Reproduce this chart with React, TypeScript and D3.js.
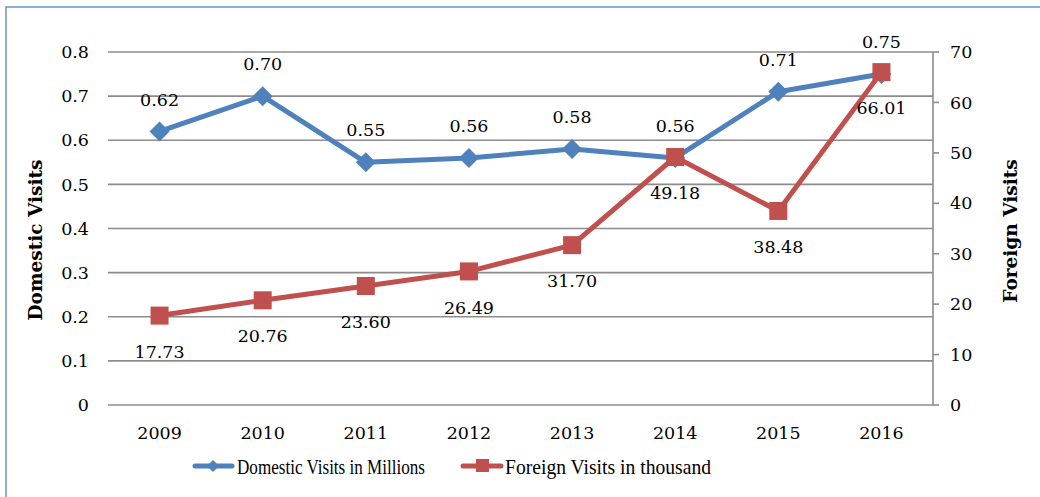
import * as d3 from 'd3';

const years = ['2009', '2010', '2011', '2012', '2013', '2014', '2015', '2016'];
const domestic = [0.62, 0.70, 0.55, 0.56, 0.58, 0.56, 0.71, 0.75];
const foreign = [17.73, 20.76, 23.60, 26.49, 31.70, 49.18, 38.48, 66.01];
const leftTicks = [0, 0.1, 0.2, 0.3, 0.4, 0.5, 0.6, 0.7, 0.8];
const rightTicks = [0, 10, 20, 30, 40, 50, 60, 70];

const W = 1040;
const H = 497;
const BLUE = '#4F81BD';
const RED = '#C0504D';
const FONT = 'DejaVu Serif, Georgia, serif';

const App = () => {
    const left = 108, right = 933, top = 52, bottom = 405;

    const x = d3.scaleBand().domain(years).range([left, right]);
    const yL = d3.scaleLinear().domain([0, 0.8]).range([bottom, top]);
    const yR = d3.scaleLinear().domain([0, 70]).range([bottom, top]);
    const cx = (y: string) => (x(y) ?? 0) + x.bandwidth() / 2;

    const domLine = d3.line<number>().x((_, i) => cx(years[i])).y(d => yL(d));
    const forLine = d3.line<number>().x((_, i) => cx(years[i])).y(d => yR(d));

    const diamond = (px: number, py: number, r: number) =>
        `M${px},${py - r}L${px + r},${py}L${px},${py + r}L${px - r},${py}Z`;

    return (
        <svg width={W} height={H} style={{ position: 'absolute', left: 0, top: 0, background: '#fff' }}>
            {/* frame */}
            <rect x={6} y={7} width={W + 10} height={H + 10} fill="none" stroke="#6C94C8" strokeWidth={1.5} />

            {/* grid */}
            {leftTicks.map(t => (
                <line key={t} x1={left} x2={right} y1={yL(t)} y2={yL(t)} stroke="#8C8C8C" strokeWidth={1.6} />
            ))}
            {/* right axis */}
            <line x1={right} x2={right} y1={top} y2={bottom} stroke="#8C8C8C" strokeWidth={1.6} />
            {rightTicks.map(t => (
                <line key={t} x1={right} x2={right + 6} y1={yR(t)} y2={yR(t)} stroke="#8C8C8C" strokeWidth={1.6} />
            ))}

            {/* tick labels */}
            {leftTicks.map(t => (
                <text key={t} x={89} y={yL(t)} dy="0.35em" textAnchor="end" fontFamily={FONT} fontSize={17.5}>
                    {t === 0 ? '0' : d3.format('.1f')(t)}
                </text>
            ))}
            {rightTicks.map(t => (
                <text key={t} x={950} y={yR(t)} dy="0.35em" textAnchor="start" fontFamily={FONT} fontSize={17.5}>
                    {t}
                </text>
            ))}
            {years.map(y => (
                <text key={y} x={cx(y)} y={433} dy="0.35em" textAnchor="middle" fontFamily={FONT} fontSize={17.5}>
                    {y}
                </text>
            ))}

            {/* axis titles */}
            <text transform={`translate(36,240) rotate(-90)`} textAnchor="middle" dy="0.35em"
                fontFamily={FONT} fontSize={18.5} fontWeight="bold">Domestic Visits</text>
            <text transform={`translate(1011,231) rotate(-90)`} textAnchor="middle" dy="0.35em"
                fontFamily={FONT} fontSize={18.5} fontWeight="bold">Foreign Visits</text>

            {/* series */}
            <path d={domLine(domestic) ?? ''} fill="none" stroke={BLUE} strokeWidth={5} strokeLinejoin="round" />
            {domestic.map((d, i) => (
                <path key={i} d={diamond(cx(years[i]), yL(d), 10)} fill={BLUE} />
            ))}
            <path d={forLine(foreign) ?? ''} fill="none" stroke={RED} strokeWidth={5} strokeLinejoin="round" />
            {foreign.map((d, i) => (
                <rect key={i} x={cx(years[i]) - 9} y={yR(d) - 9} width={18} height={18} fill={RED} />
            ))}

            {/* data labels */}
            {domestic.map((d, i) => (
                <text key={i} x={cx(years[i])} y={yL(d) - 32} dy="0.35em" textAnchor="middle" fontFamily={FONT} fontSize={17.5}>
                    {d3.format('.2f')(d)}
                </text>
            ))}
            {foreign.map((d, i) => (
                <text key={i} x={cx(years[i])} y={yR(d) + 36} dy="0.35em" textAnchor="middle" fontFamily={FONT} fontSize={17.5}>
                    {d3.format('.2f')(d)}
                </text>
            ))}

            {/* legend */}
            <line x1={195} x2={232} y1={466} y2={466} stroke={BLUE} strokeWidth={5} strokeLinecap="round" />
            <path d={diamond(213, 466, 6)} fill={BLUE} />
            <text x={237} y={466} dy="0.35em" fontFamily="Liberation Serif, serif" fontSize={22}
                textLength={188} lengthAdjust="spacingAndGlyphs">Domestic Visits in Millions</text>
            <line x1={463} x2={501} y1={466} y2={466} stroke={RED} strokeWidth={5} strokeLinecap="round" />
            <rect x={476} y={459} width={13} height={13} fill={RED} />
            <text x={505} y={466} dy="0.35em" fontFamily="Liberation Serif, serif" fontSize={22}
                textLength={206} lengthAdjust="spacingAndGlyphs">Foreign Visits in thousand</text>
        </svg>
    );
};

export default App;
